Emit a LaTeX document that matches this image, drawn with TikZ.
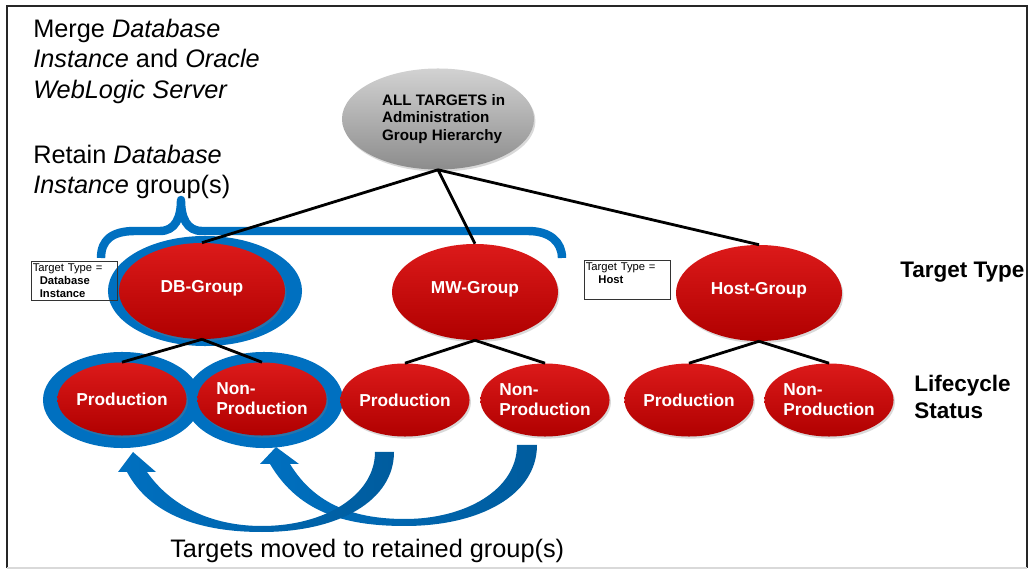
\documentclass[tikz,border=0pt]{standalone}
\usepackage{fontspec}
\setmainfont{Liberation Sans}
\usetikzlibrary{shapes.geometric}
\usetikzlibrary{shadows}
\definecolor{grpred}{HTML}{CC0000}
\definecolor{redtop}{HTML}{DC1A1A}
\definecolor{redbot}{HTML}{B00000}
\definecolor{haloblue}{HTML}{0070C0}
\definecolor{arrowdark}{HTML}{005C9E}
\definecolor{greytop}{HTML}{D2D2D2}
\definecolor{greymid}{HTML}{ABABAB}
\definecolor{greybot}{HTML}{8C8C8C}
\newcommand{\bigtxt}{\fontsize{18}{21.5}\selectfont}
\newcommand{\sidetxt}{\fontsize{16}{19.2}\selectfont\bfseries}
\newcommand{\grptxt}{\fontsize{12.3}{14.2}\selectfont\bfseries}
\newcommand{\roottxt}{\fontsize{10.8}{12.2}\selectfont\bfseries}
\newcommand{\boxtxt}{\fontsize{8}{9.2}\selectfont}

\begin{document}
\begin{tikzpicture}[x=0.025cm,y=-0.025cm,
  grp/.style={ellipse, minimum width=4.15cm, minimum height=2.4cm, inner sep=0pt,
    text=white, font=\grptxt, top color=redtop, middle color=grpred, bottom color=redbot,
    drop shadow={opacity=0.3, shadow xshift=1pt, shadow yshift=-1.5pt}},
  leaf/.style={grp, minimum width=3.175cm, minimum height=1.825cm, align=left},
  halo/.style={ellipse, fill=haloblue, inner sep=0pt},
  typebox/.style={draw=black!80, line width=0.6pt, anchor=north west, inner xsep=1pt,
    inner ysep=2pt, font=\boxtxt, align=left, text width=2.08cm},
  link/.style={line width=2pt, black}]
\useasboundingbox (0,0) rectangle (1028,570);

\draw[black!85, line width=1.4pt] (7,568) -- (7,6) -- (1027,6) -- (1027,568); %frame
\draw[black!15, line width=1.2pt] (7,568) -- (1027,568);

%brace over the retained groups
\draw[haloblue, line width=6pt, line join=round] (101,258) .. controls (101,240) and (112,231) .. (135,231)
  -- (160,231) .. controls (175,231) and (181,218) .. (181,200)
  .. controls (181,218) and (187,231) .. (202,231)
  -- (528,231) .. controls (550,231) and (562,242) .. (562,258);

%halos
\node[halo, minimum width=4.85cm, minimum height=2.75cm] (dbhalo) at (205,291) {};
\node[halo, minimum width=3.95cm, minimum height=2.4cm] (dbprodhalo) at (122,400) {};
\node[halo, minimum width=3.95cm, minimum height=2.4cm] (dbnonhalo) at (264,400) {};

%root
\node[ellipse, minimum width=4.8cm, minimum height=2.525cm, inner sep=0pt, align=left,
  font=\roottxt, top color=greytop, middle color=greymid, bottom color=greybot,
  drop shadow={opacity=0.3, shadow xshift=1pt, shadow yshift=-1.5pt}]
  (root) at (438,119) {\hspace*{8pt}ALL TARGETS in\\\hspace*{8pt}Administration\\\hspace*{8pt}Group Hierarchy};

%target type level
\node[grp] (dbg) at (202,291) {\raisebox{6.4pt}{DB-Group}};
\node[grp] (mwg) at (475,292) {\raisebox{6.4pt}{MW-Group}};
\node[grp] (hostg) at (759,293) {\raisebox{6.4pt}{Host-Group}};

%lifecycle level
\node[leaf] (dbprod) at (122,399) {Production};
\node[leaf] (dbnon) at (262,399) {Non-\\Production};
\node[leaf] (mwprod) at (405,400) {Production};
\node[leaf] (mwnon) at (545,400) {Non-\\Production};
\node[leaf] (hostprod) at (689,400) {Production};
\node[leaf] (hostnon) at (829,400) {Non-\\Production};

\draw[link] (root.south) -- (dbg.north);
\draw[link] (root.south) -- (mwg.north);
\draw[link] (root.south) -- (hostg.north);
\draw[link] (dbg.south) -- (dbprod.north);
\draw[link] (dbg.south) -- (dbnon.north);
\draw[link] (mwg.south) -- (mwprod.north);
\draw[link] (mwg.south) -- (mwnon.north);
\draw[link] (hostg.south) -- (hostprod.north);
\draw[link] (hostg.south) -- (hostnon.north);

%type boxes
\node[typebox] (dbtype) at (31,261) {Target Type =\\\hspace*{5pt}\textbf{Database}\\\hspace*{5pt}\textbf{Instance}};
\node[typebox] (hosttype) at (584,260) {Target Type =\\\hspace*{9pt}\textbf{Host}\\\mbox{}};

%moving arrows
\shade[left color=haloblue, middle color=haloblue, right color=arrowdark]
  (270,464) .. controls (300,515) and (350,526) .. (405,526)
  .. controls (480,526) and (537,495) .. (537,445) -- (517,445)
  .. controls (517,490) and (465,519) .. (405,519)
  .. controls (355,519) and (315,505) .. (290,464)
  -- (299,464) -- (276,447) -- (260,464) -- cycle;
\shade[left color=haloblue, middle color=haloblue, right color=arrowdark]
  (127,472) .. controls (150,515) and (200,532) .. (262,532)
  .. controls (340,532) and (394,500) .. (394,452) -- (375,452)
  .. controls (375,495) and (325,526) .. (262,526)
  .. controls (210,526) and (170,505) .. (147,472)
  -- (156,472) -- (133,452) -- (118,472) -- cycle;

%texts
\node[anchor=north west, inner sep=0pt, align=left, font=\bigtxt] (mergetxt) at (33,19)
  {Merge \textit{Database}\\\textit{Instance} and \textit{Oracle}\\\textit{WebLogic Server}};
\node[anchor=north west, inner sep=0pt, align=left, font=\bigtxt] (retaintxt) at (33,145)
  {Retain \textit{Database}\\\textit{Instance} group(s)};
\node[anchor=base west, inner sep=0pt, font=\sidetxt] (typetxt) at (900,278) {Target Type};
\node[anchor=north west, inner sep=0pt, align=left, font=\sidetxt] (lifetxt) at (914,375) {Lifecycle\\Status};
\node[anchor=base west, inner sep=0pt, font=\bigtxt] (movedtxt) at (170,558) {Targets moved to retained group(s)};
\end{tikzpicture}
\end{document}
